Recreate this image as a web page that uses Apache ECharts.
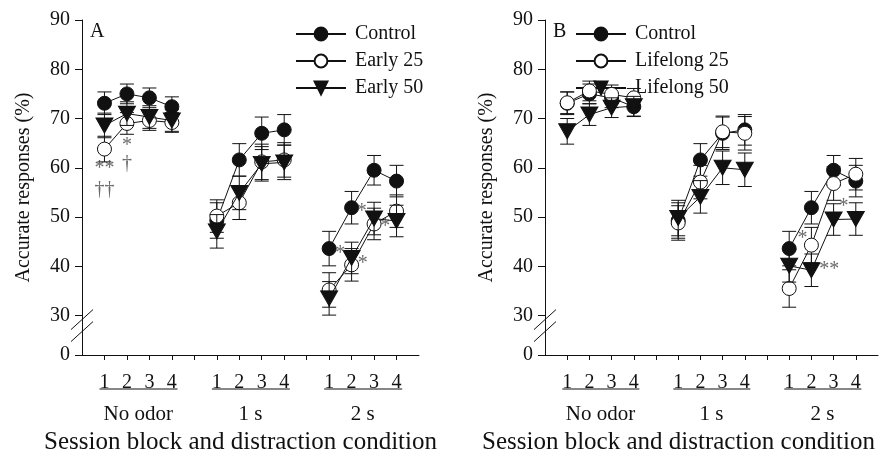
<!DOCTYPE html>
<html>
<head>
<meta charset="utf-8">
<script src="https://cdn.jsdelivr.net/npm/echarts@6/dist/echarts.min.js"></script>
<style>
  html, body { margin: 0; padding: 0; background: #fff; }
  #chart { width: 880px; height: 449px; }
</style>
</head>
<body>
<div id="chart"></div>
<script>
// categories
const groups = ['No odor', '1 s', '2 s']
const sessions = ['1', '2', '3', '4']
const yTickLabels = [0, 30, 40, 50, 60, 70, 80, 90]

// panel A: means and SEM, 12 values = 3 conditions x 4 session blocks
const controlMean = [73.1, 75.0, 74.2, 72.4, 49.3, 61.6, 67.0, 67.7, 43.6, 51.9, 59.5, 57.3]
const controlErr = [2.3, 2.0, 2.0, 2.0, 3.6, 3.3, 3.3, 3.1, 3.5, 3.3, 3.0, 3.2]
const early25Mean = [63.8, 69.0, 69.6, 69.2, 50.2, 52.9, 61.2, 61.6, 35.2, 40.3, 48.6, 51.2]
const early25Err = [2.6, 2.2, 2.0, 2.0, 3.3, 3.4, 3.6, 3.5, 3.5, 3.3, 3.2, 3.3]
const early50Mean = [68.6, 71.0, 70.3, 69.6, 47.1, 54.9, 60.8, 61.1, 33.5, 41.7, 49.7, 49.2]
const early50Err = [2.5, 2.4, 2.3, 2.2, 3.4, 3.4, 3.5, 3.5, 3.4, 3.2, 3.3, 3.2]

// panel B
const lifelong25Mean = [73.2, 75.6, 74.9, 74.2, 48.8, 57.1, 67.3, 67.0, 35.5, 44.3, 56.8, 58.7]
const lifelong25Err = [2.2, 2.0, 1.9, 1.9, 3.5, 3.4, 3.2, 3.4, 3.8, 3.6, 3.4, 3.2]
const lifelong50Mean = [67.4, 70.8, 72.2, 72.5, 49.8, 54.1, 60.0, 59.6, 40.1, 39.2, 49.5, 49.6]
const lifelong50Err = [2.6, 2.2, 2.0, 2.0, 3.6, 3.3, 3.4, 3.4, 3.3, 3.3, 3.2, 3.3]

// significance marks: [text, x position, y value]
const marksA = [['**', 0, 59.8], ['††', 0, 55.6], ['*', 1, 64.5], ['†', 1, 60.8],
  ['*', 10.5, 42.6], ['*', 11.5, 40.6], ['*', 11.45, 51.0], ['*', 12.5, 48.1]]
const marksB = [['*', 10.6, 45.6], ['**', 11.8, 39.4], ['*', 12.45, 52.0]]

const Y0 = 22 // axis value where the broken axis shows 0
const font = 'Liberation Serif'

// x slots: 4 sessions per condition, one empty slot between conditions
const positions = groups.flatMap((g, gi) => sessions.map((s, si) => gi * 5 + si))
const xTicks = Array.from({ length: 14 }, (_, i) => i)

const panels = [
  { label: 'A', left: 82, width: 337, legendLeft: 290, titleShift: 20,
    series: [
      { name: 'Control', mean: controlMean, err: controlErr, type: 'filled' },
      { name: 'Early 25', mean: early25Mean, err: early25Err, type: 'open' },
      { name: 'Early 50', mean: early50Mean, err: early50Err, type: 'tri' }
    ], marks: marksA },
  { label: 'B', left: 545, width: 333, legendLeft: 570, titleShift: 66,
    series: [
      { name: 'Control', mean: controlMean, err: controlErr, type: 'filled' },
      { name: 'Lifelong 25', mean: lifelong25Mean, err: lifelong25Err, type: 'open' },
      { name: 'Lifelong 50', mean: lifelong50Mean, err: lifelong50Err, type: 'tri' }
    ], marks: marksB }
]

const symbolStyle = {
  filled: { symbol: 'circle', symbolSize: 14, symbolRotate: 0, itemStyle: { color: '#111', borderColor: '#111', borderWidth: 1 } },
  open: { symbol: 'circle', symbolSize: 14, symbolRotate: 0, itemStyle: { color: '#fff', borderColor: '#111', borderWidth: 1 } },
  tri: { symbol: 'triangle', symbolSize: [17, 15], symbolRotate: 180, itemStyle: { color: '#111', borderColor: '#111', borderWidth: 1 } }
}

function lineData(mean) {
  const out = []
  mean.forEach((v, i) => {
    if (i > 0 && i % 4 === 0) out.push([positions[i] - 1, '-'])
    out.push([positions[i], v])
  })
  return out
}

function errorBar(params, api) {
  const x = api.value(0)
  const top = api.coord([x, api.value(2)])
  const bot = api.coord([x, api.value(1)])
  const w = 7
  const style = { stroke: '#111', lineWidth: 1 }
  return {
    type: 'group',
    children: [
      { type: 'line', shape: { x1: top[0], y1: top[1], x2: bot[0], y2: bot[1] }, style },
      { type: 'line', shape: { x1: top[0] - w, y1: top[1], x2: top[0] + w, y2: top[1] }, style },
      { type: 'line', shape: { x1: bot[0] - w, y1: bot[1], x2: bot[0] + w, y2: bot[1] }, style }
    ]
  }
}

const grid = [], xAxis = [], yAxis = [], series = [], legend = []
const yTicks = yTickLabels.map(v => (v === 0 ? Y0 : v))

panels.forEach((p, g) => {
  grid.push({ left: p.left, top: 20, width: p.width, height: 335, outerBoundsMode: 'none', containLabel: false })
  xAxis.push({
    type: 'value', gridIndex: g, min: -1, max: 14,
    axisLine: { onZero: false, lineStyle: { color: '#111', width: 1 } },
    axisTick: { customValues: xTicks, length: 5, lineStyle: { color: '#111' } },
    axisLabel: { customValues: positions, formatter: v => sessions[v % 5], margin: 18,
      color: '#111', fontFamily: font, fontSize: 20 },
    splitLine: { show: false }
  })
  xAxis.push({
    type: 'value', gridIndex: g, min: -1, max: 14, position: 'bottom',
    axisLine: { show: false }, axisTick: { show: false }, splitLine: { show: false },
    axisLabel: { customValues: [1.5, 6.5, 11.5], formatter: v => groups[Math.round((v - 1.5) / 5)],
      margin: 49, color: '#111', fontFamily: font, fontSize: 21 },
    name: 'Session block and distraction condition', nameLocation: 'middle', nameGap: 70,
    nameTextStyle: { color: '#111', fontFamily: font, fontSize: 25, padding: [0, p.titleShift, 0, 0] }
  })
  yAxis.push({
    type: 'value', gridIndex: g, min: Y0, max: 90,
    axisLine: { show: true, onZero: false, lineStyle: { color: '#111', width: 1 } },
    axisTick: { show: true, customValues: yTicks, length: 7, lineStyle: { color: '#111' } },
    axisLabel: { customValues: yTicks, formatter: v => (v === Y0 ? '0' : String(v)), margin: 12,
      color: '#111', fontFamily: font, fontSize: 20 },
    splitLine: { show: false },
    name: 'Accurate responses (%)', nameLocation: 'middle', nameGap: 48,
    nameTextStyle: { color: '#111', fontFamily: font, fontSize: 20 }
  })
  legend.push({
    left: p.legendLeft, top: 19, orient: 'vertical', itemWidth: 50, itemHeight: 16, itemGap: 7,
    data: p.series.map(s => s.name),
    textStyle: { color: '#111', fontFamily: font, fontSize: 20, padding: [0, 0, 0, 4] }
  })
  p.series.forEach((s, k) => {
    series.push({
      type: 'custom', xAxisIndex: 2 * g, yAxisIndex: g, renderItem: errorBar, z: 1 + k * 2,
      silent: true, clip: false,
      data: s.mean.map((v, i) => [positions[i], v - s.err[i], v + s.err[i]])
    })
    series.push(Object.assign({
      type: 'line', name: s.name, xAxisIndex: 2 * g, yAxisIndex: g, z: 2 + k * 2,
      data: lineData(s.mean), connectNulls: false,
      lineStyle: { color: '#111', width: 1 }
    }, symbolStyle[s.type]))
  })
  series.push({
    type: 'scatter', xAxisIndex: 2 * g, yAxisIndex: g, symbolSize: 0, z: 10, silent: true,
    data: p.marks.map(m => ({ name: m[0], value: [m[1], m[2]] })),
    label: { show: true, position: 'inside', formatter: '{b}', color: '#444',
      fontFamily: font, fontSize: 20 }
  })
})

const chart = echarts.init(document.getElementById('chart'))
chart.setOption({ animation: false, grid, xAxis, yAxis, series, legend })

// panel letters, axis break marks and condition underlines
const graphic = []
panels.forEach((p, g) => {
  const finder = { xAxisIndex: 2 * g, yAxisIndex: g }
  const corner = chart.convertToPixel(finder, [-1, 90])
  graphic.push({ type: 'text', x: corner[0] + 8, y: corner[1] + 2,
    style: { text: p.label, fill: '#111', font: '20px "Liberation Serif"' } })
  const at30 = chart.convertToPixel(finder, [-1, 30])
  ;[4, 16].forEach(dy => {
    graphic.push({ type: 'line', shape: { x1: at30[0] - 11, y1: at30[1] + dy + 10, x2: at30[0] + 11, y2: at30[1] + dy - 10 },
      style: { stroke: '#111', lineWidth: 1 } })
  })
  groups.forEach((name, gi) => {
    const a = chart.convertToPixel(finder, [gi * 5 - 0.22, Y0])
    const b = chart.convertToPixel(finder, [gi * 5 + 3.25, Y0])
    graphic.push({ type: 'line', shape: { x1: a[0], y1: a[1] + 34, x2: b[0], y2: b[1] + 34 },
      style: { stroke: '#111', lineWidth: 1.2 } })
  })
})
chart.setOption({ graphic })
</script>
</body>
</html>
